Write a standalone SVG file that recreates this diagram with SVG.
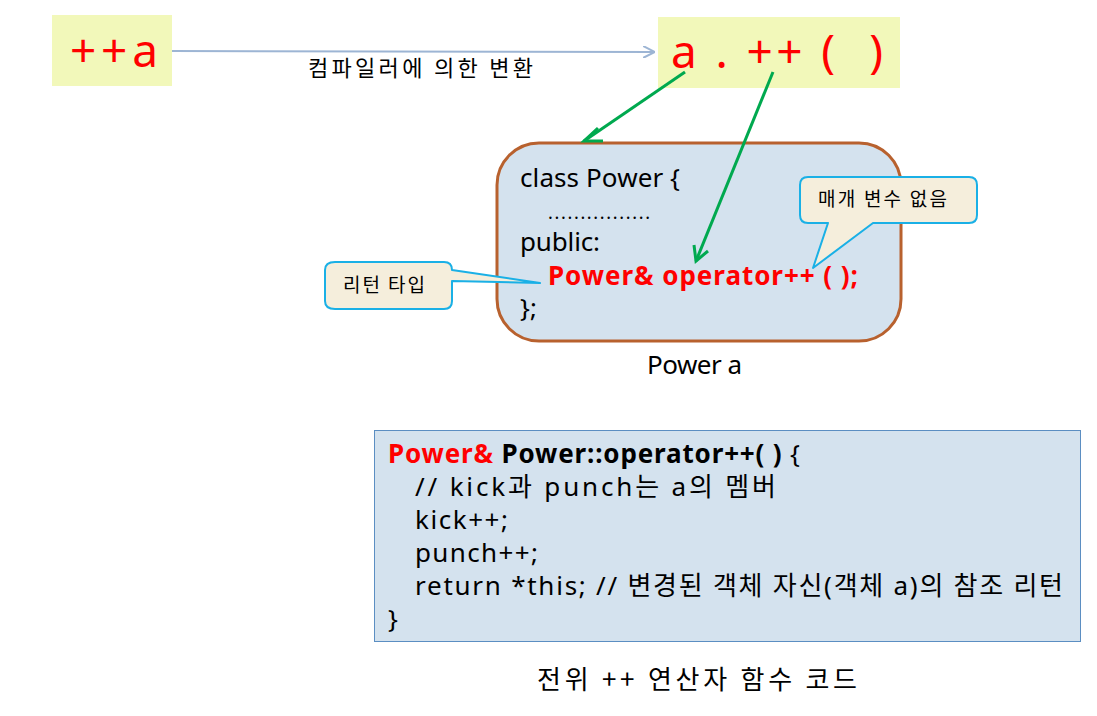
<svg xmlns="http://www.w3.org/2000/svg" width="1097" height="716" viewBox="0 0 1097 716">
<style>
text{font-family:"Noto Sans","Noto Sans CJK KR",sans-serif;fill:#000}
.k{font-family:"Noto Sans CJK KR","Noto Sans",sans-serif}
.red{fill:#FF0000}
.b{font-weight:bold}
.big{font-size:46px}
.code{font-size:26px}
.call{fill:#F5EEDC;stroke:#1AB0E6;stroke-width:2;stroke-linejoin:round}
.grn{stroke:#00A94F;stroke-width:3;fill:none}
</style>
<defs>
<marker id="ba" viewBox="0 0 12 12" refX="12" refY="6" markerWidth="12" markerHeight="12" orient="auto" markerUnits="userSpaceOnUse">
<path d="M0,0 L12,6 L0,12" fill="none" stroke="#9DB5D4" stroke-width="2"/>
</marker>
</defs>
<g id="src">
<rect x="52" y="15" width="120" height="71" fill="#F2F8BA"/>
<text x="70" y="67" class="big red" textLength="88" lengthAdjust="spacing">++a</text>
</g>
<g id="dst">
<rect x="658" y="17" width="242" height="71" fill="#F2F8BA"/>
<text x="671" y="68" class="big red" xml:space="preserve" textLength="212" lengthAdjust="spacing">a . ++ (  )</text>
</g>
<g id="classbox">
<rect x="497" y="143" width="404" height="198" rx="42" fill="#D4E2EE" stroke="#B8612E" stroke-width="3"/>
<text x="520" y="187" class="code" textLength="160" lengthAdjust="spacing">class Power {</text>
<text x="548" y="219" font-size="18" textLength="102" lengthAdjust="spacing">................</text>
<text x="520" y="251" class="code" textLength="80" lengthAdjust="spacing">public:</text>
<text x="548" y="285" class="code b red" xml:space="preserve" textLength="310" lengthAdjust="spacing">Power&amp; operator++ ( );</text>
<text x="520" y="317" class="code">};</text>
</g>
<g id="caption1">
<text x="647" y="374" class="code" textLength="95" lengthAdjust="spacing">Power a</text>
</g>
<g id="callout-ret">
<path class="call" d="M335,262 H444 Q452,262 452,270 L540,283 L452,281 V301 Q452,309 444,309 H335 Q325,309 325,301 V270 Q325,262 335,262 Z"/>
<text x="343" y="292" class="k" font-size="19" textLength="82" lengthAdjust="spacing">리턴 타입</text>
</g>
<g id="callout-param">
<path class="call" d="M808,177 H969 Q977,177 977,185 V215 Q977,223 969,223 H873 L813,268 L828,223 H808 Q800,223 800,215 V185 Q800,177 808,177 Z"/>
<text x="818" y="206" class="k" font-size="19" textLength="129" lengthAdjust="spacing">매개 변수 없음</text>
</g>
<g id="codebox">
<rect x="374.5" y="430.5" width="706" height="211" fill="#D4E2EE" stroke="#5B8EC2" stroke-width="1"/>
<text x="388" y="463" class="code b" textLength="412" lengthAdjust="spacing"><tspan class="red">Power&amp;</tspan> Power::operator++( ) <tspan font-weight="normal">{</tspan></text>
<text x="415" y="496" class="code" textLength="361" lengthAdjust="spacing">// kick과 punch는 a의 멤버</text>
<text x="415" y="529" class="code" textLength="93" lengthAdjust="spacing">kick++;</text>
<text x="415" y="562" class="code" textLength="123" lengthAdjust="spacing">punch++;</text>
<text x="415" y="595" class="code" textLength="648" lengthAdjust="spacing">return *this; // 변경된 객체 자신(객체 a)의 참조 리턴</text>
<text x="388" y="628" class="code">}</text>
</g>
<g id="caption2">
<text x="537" y="689" class="k" font-size="26" textLength="320" lengthAdjust="spacing">전위 ++ 연산자 함수 코드</text>
</g>
<g id="connectors">
<line x1="172" y1="51" x2="655" y2="52" stroke="#9DB5D4" stroke-width="2" marker-end="url(#ba)"/>
<text x="308" y="76" class="k" font-size="22" textLength="225" lengthAdjust="spacing">컴파일러에 의한 변환</text>
<line x1="685" y1="72" x2="584" y2="141" class="grn"/>
<path d="M598,128 L584,141 L603,141" class="grn"/>
<line x1="773" y1="72" x2="696" y2="261" class="grn"/>
<path d="M694,245 L696,261 L708,251" class="grn"/>
</g>
</svg>
